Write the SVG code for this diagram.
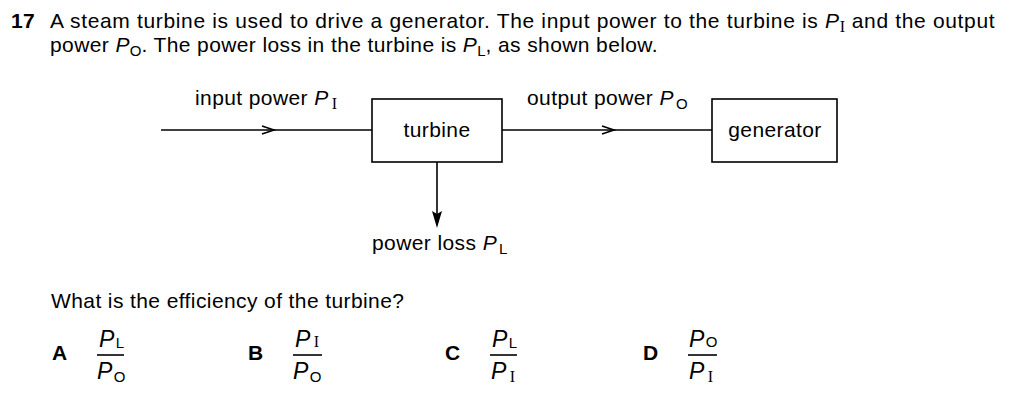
<svg xmlns="http://www.w3.org/2000/svg" width="1024" height="418" viewBox="0 0 1024 418">
<style>
text{font-family:"Liberation Sans",Arial,sans-serif;font-size:21px;letter-spacing:0.4px;fill:#000}
.b{font-weight:bold}
.i{font-style:italic}
.sub{font-size:15px;letter-spacing:0}
.ser{font-family:"Liberation Serif","Times New Roman",serif;font-size:16px;letter-spacing:0}
.frac{font-size:23px}
.box{fill:none;stroke:#000;stroke-width:1.6}
.ln{fill:none;stroke:#000;stroke-width:1.6}
</style>
<rect width="1024" height="418" fill="#fff"/>
<g id="question">
<text x="11" y="28" class="b">17</text>
<text x="50" y="28" textLength="945" lengthAdjust="spacing">A steam turbine is used to drive a generator. The input power to the turbine is <tspan class="i">P</tspan><tspan class="ser" dy="4">I</tspan><tspan dy="-4"> and the output</tspan></text>
<text x="50" y="52" textLength="608" lengthAdjust="spacing">power <tspan class="i">P</tspan><tspan class="sub" dy="4">O</tspan><tspan dy="-4">. The power loss in the turbine is </tspan><tspan class="i">P</tspan><tspan class="sub" dy="4">L</tspan><tspan dy="-4">, as shown below.</tspan></text>
</g>
<g id="connectors">
<line class="ln" x1="161" y1="130" x2="372" y2="130"/>
<polyline class="ln" points="262,126 274,130 262,134"/>
<line class="ln" x1="502" y1="130" x2="712" y2="130"/>
<polyline class="ln" points="602,126 614,130 602,134"/>
<line class="ln" x1="437" y1="162" x2="437" y2="224"/>
<path d="M432,211 L437,228 L442,211 L437,214 Z" fill="#000"/>
<text x="195" y="105">input power <tspan class="i">P</tspan><tspan class="ser" dx="3" dy="4">I</tspan></text>
<text x="527" y="105">output power <tspan class="i">P</tspan><tspan class="sub" dx="2" dy="4">O</tspan></text>
<text x="372" y="250">power loss <tspan class="i">P</tspan><tspan class="sub" dx="2" dy="4">L</tspan></text>
</g>
<g id="turbine">
<rect class="box" x="372" y="99" width="130" height="63"/>
<text x="437" y="137" text-anchor="middle">turbine</text>
</g>
<g id="generator">
<rect class="box" x="712" y="99" width="125" height="63"/>
<text x="775" y="137" text-anchor="middle">generator</text>
</g>
<g id="prompt">
<text x="51" y="308">What is the efficiency of the turbine?</text>
</g>
<g id="optionA">
<text x="52" y="360" class="b">A</text>
<text x="99" y="347" class="frac"><tspan class="i">P</tspan><tspan class="sub" dx="1" dy="1">L</tspan></text>
<line class="ln" x1="97" y1="355" x2="124" y2="355" stroke-width="1.2"/>
<text x="97" y="379" class="frac"><tspan class="i">P</tspan><tspan class="sub" dx="1" dy="3">O</tspan></text>
</g>
<g id="optionB">
<text x="248" y="360" class="b">B</text>
<text x="295" y="347" class="frac"><tspan class="i">P</tspan><tspan class="ser" dx="3" dy="0">I</tspan></text>
<line class="ln" x1="293" y1="355" x2="322" y2="355" stroke-width="1.2"/>
<text x="293" y="379" class="frac"><tspan class="i">P</tspan><tspan class="sub" dx="1" dy="3">O</tspan></text>
</g>
<g id="optionC">
<text x="445" y="360" class="b">C</text>
<text x="492" y="347" class="frac"><tspan class="i">P</tspan><tspan class="sub" dx="1" dy="1">L</tspan></text>
<line class="ln" x1="490" y1="355" x2="517" y2="355" stroke-width="1.2"/>
<text x="491" y="379" class="frac"><tspan class="i">P</tspan><tspan class="ser" dx="3" dy="3">I</tspan></text>
</g>
<g id="optionD">
<text x="643" y="360" class="b">D</text>
<text x="689" y="347" class="frac"><tspan class="i">P</tspan><tspan class="sub" dx="1" dy="0">O</tspan></text>
<line class="ln" x1="688" y1="355" x2="717" y2="355" stroke-width="1.2"/>
<text x="689" y="379" class="frac"><tspan class="i">P</tspan><tspan class="ser" dx="3" dy="3">I</tspan></text>
</g>
</svg>
